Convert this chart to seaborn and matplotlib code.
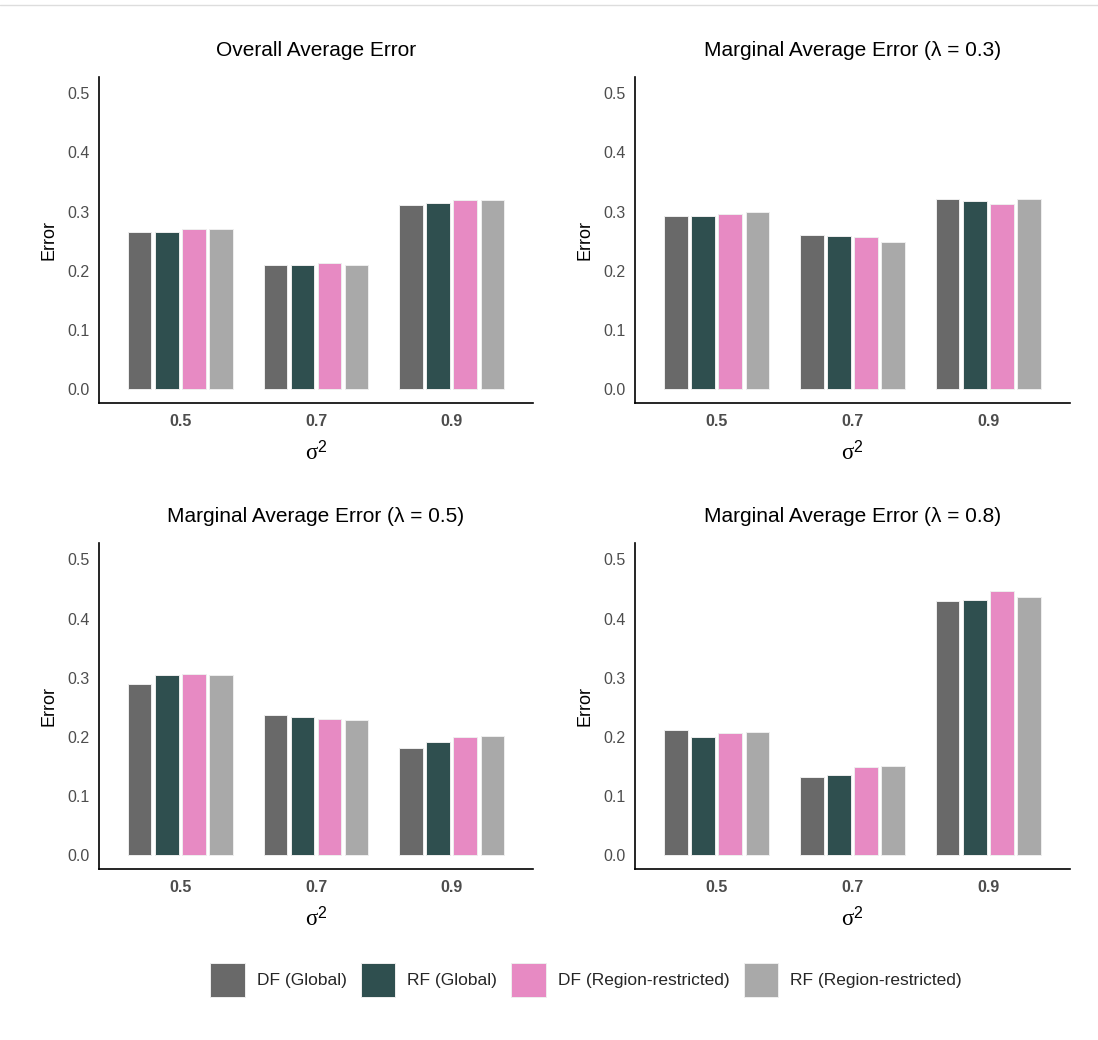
import matplotlib
matplotlib.use("Agg")
import matplotlib.pyplot as plt
from matplotlib.patches import Patch
from matplotlib.lines import Line2D
import seaborn as sns
import pandas as pd

sns.set_style("white")
plt.rcParams['font.family'] = ['Liberation Sans', 'DejaVu Sans']
plt.rcParams['mathtext.fontset'] = 'custom'
plt.rcParams['mathtext.rm'] = 'Liberation Serif'
plt.rcParams['mathtext.it'] = 'Liberation Serif:italic'
plt.rcParams['mathtext.sf'] = 'Liberation Sans'

sigma2 = ["0.5", "0.7", "0.9"]
methods = ["DF (Global)", "RF (Global)", "DF (Region-restricted)", "RF (Region-restricted)"]
colors = ["#696969", "#2F4F4F", "#E78AC3", "#A9A9A9"]

titles = ["Overall Average Error",
          "Marginal Average Error (λ = 0.3)",
          "Marginal Average Error (λ = 0.5)",
          "Marginal Average Error (λ = 0.8)"]

# values[method] = [sigma 0.5, 0.7, 0.9]
overall = {
    "DF (Global)": [0.265, 0.210, 0.311],
    "RF (Global)": [0.266, 0.210, 0.314],
    "DF (Region-restricted)": [0.270, 0.213, 0.320],
    "RF (Region-restricted)": [0.270, 0.209, 0.320],
}
lam03 = {
    "DF (Global)": [0.293, 0.260, 0.321],
    "RF (Global)": [0.293, 0.258, 0.318],
    "DF (Region-restricted)": [0.296, 0.257, 0.313],
    "RF (Region-restricted)": [0.299, 0.248, 0.321],
}
lam05 = {
    "DF (Global)": [0.290, 0.237, 0.182],
    "RF (Global)": [0.304, 0.234, 0.192],
    "DF (Region-restricted)": [0.307, 0.231, 0.200],
    "RF (Region-restricted)": [0.304, 0.229, 0.202],
}
lam08 = {
    "DF (Global)": [0.211, 0.133, 0.429],
    "RF (Global)": [0.200, 0.136, 0.431],
    "DF (Region-restricted)": [0.207, 0.149, 0.446],
    "RF (Region-restricted)": [0.208, 0.151, 0.437],
}
panels = [overall, lam03, lam05, lam08]

W, H = 1098, 1040
fig = plt.figure(figsize=(W / 100, H / 100), dpi=100)

def fx(px):
    return px / W

def fy(px):
    return 1 - px / H

boxes = [
    (99, 77, 533, 402.7),
    (635, 77, 1070, 402.7),
    (99, 543, 533, 869),
    (635, 543, 1070, 869),
]

for (l, t, r, b), data, title in zip(boxes, panels, titles):
    ax = fig.add_axes([fx(l), fy(b), fx(r) - fx(l), fy(t) - fy(b)])
    rows = []
    for m in methods:
        for s, v in zip(sigma2, data[m]):
            rows.append({"sigma2": s, "method": m, "error": v})
    df = pd.DataFrame(rows)
    sns.barplot(data=df, x="sigma2", y="error", hue="method", order=sigma2,
                hue_order=methods, palette=colors, width=0.8, gap=0.13,
                saturation=1, edgecolor="#eeeeee", linewidth=0.7,
                legend=False, ax=ax)
    ax.set_xlim(-0.6, 2.6)
    ax.set_ylim(-0.023, 0.5275)
    ax.set_yticks([0.0, 0.1, 0.2, 0.3, 0.4, 0.5])
    ax.set_yticklabels(["0.0", "0.1", "0.2", "0.3", "0.4", "0.5"])
    for side in ["top", "right"]:
        ax.spines[side].set_visible(False)
    for side in ["left", "bottom"]:
        ax.spines[side].set_color("black")
        ax.spines[side].set_linewidth(1.2)
    ax.tick_params(axis="y", length=0, pad=6.5, labelsize=11.5, labelcolor="#4D4D4D")
    ax.tick_params(axis="x", length=0, pad=8, labelsize=11.5, labelcolor="#4D4D4D")
    for lab in ax.get_xticklabels():
        lab.set_fontweight("bold")
    ax.set_ylabel("Error", fontsize=13, color="black", labelpad=7)
    ax.set_xlabel(r"$\mathrm{\sigma}^{\mathsf{2}}$", fontsize=16.5, color="black",
                  labelpad=8.5)
    ax.set_title(title, fontsize=15, color="black", pad=15)
    ax.grid(False)

handles = [Patch(facecolor=c, edgecolor="#eeeeee", linewidth=0.7, label=m)
           for c, m in zip(colors, methods)]
fig.legend(handles=handles, loc="center", bbox_to_anchor=(586 / W, fy(980)),
           ncol=4, frameon=False, fontsize=12.5, handlelength=2.0,
           handleheight=2.72, handletextpad=0.7, columnspacing=0.8)

fig.add_artist(Line2D([0, 1], [fy(5), fy(5)], transform=fig.transFigure,
                      color="#dddddd", linewidth=1))

fig.savefig("out.png", dpi=100)
